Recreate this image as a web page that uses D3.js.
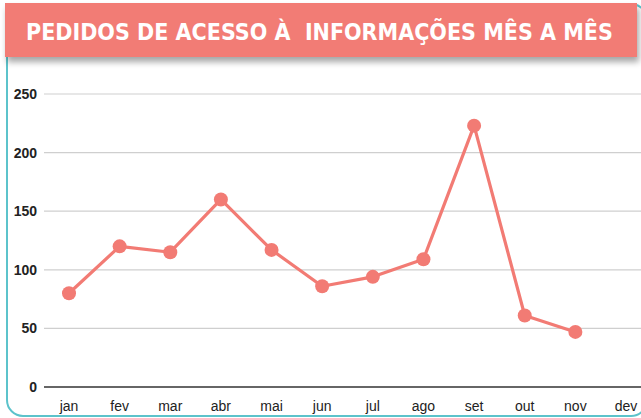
<!DOCTYPE html>
<html>
<head>
<meta charset="utf-8">
<script src="https://cdn.jsdelivr.net/npm/d3@7"></script>
<style>
  body { margin: 0; background: #fff; }
  svg { display: block; }
</style>
</head>
<body>
<div class="chart_div"></div>
<script>
var months = ["jan","fev","mar","abr","mai","jun","jul","ago","set","out","nov","dev"];
var pedidos = [80, 120, 115, 160, 117, 86, 94, 109, 223, 61, 47, null];
var yTicks = [0, 50, 100, 150, 200, 250];
var title = "PEDIDOS DE ACESSO À  INFORMAÇÕES MÊS A MÊS";

var width = 641, height = 418;
var salmon = "#f27b74";

var svg = d3.select(".chart_div").append("svg")
	.attr("width", width)
	.attr("height", height);

var defs = svg.append("defs");
var shadow = defs.append("filter").attr("id", "shadow")
	.attr("x", "-5%").attr("y", "-20%").attr("width", "110%").attr("height", "160%");
shadow.append("feDropShadow")
	.attr("dx", 2).attr("dy", 5)
	.attr("stdDeviation", 3)
	.attr("flood-color", "#000")
	.attr("flood-opacity", 0.35);

// teal frame
svg.append("rect")
	.attr("x", 7).attr("y", 4)
	.attr("width", 640).attr("height", 412)
	.attr("rx", 16)
	.attr("fill", "none")
	.attr("stroke", "#5cc3cb")
	.attr("stroke-width", 2);

var x = d3.scalePoint()
	.domain(months)
	.range([69, 626]);

var y = d3.scaleLinear()
	.domain([0, 250])
	.range([387, 94]);

// gridlines
svg.selectAll(".grid")
	.data(yTicks.filter(function(d){ return d != 0; }))
	.enter()
	.append("line")
	.attr("class", "grid")
	.attr("x1", 44).attr("x2", width)
	.attr("y1", function(d){ return y(d); })
	.attr("y2", function(d){ return y(d); })
	.attr("stroke", "#cfcfcf")
	.attr("stroke-width", 1.2);

svg.append("line")
	.attr("x1", 44).attr("x2", width)
	.attr("y1", y(0)).attr("y2", y(0))
	.attr("stroke", "#333")
	.attr("stroke-width", 1.6);

// y labels
svg.selectAll(".ylab")
	.data(yTicks)
	.enter()
	.append("text")
	.attr("class", "ylab")
	.attr("x", 37)
	.attr("y", function(d){ return y(d) + 5; })
	.attr("text-anchor", "end")
	.attr("font-family", "Liberation Sans, Arial, sans-serif")
	.attr("font-size", 14)
	.attr("font-weight", "bold")
	.attr("fill", "#222")
	.text(function(d){ return d; });

// x labels
svg.selectAll(".xlab")
	.data(months)
	.enter()
	.append("text")
	.attr("class", "xlab")
	.attr("x", function(d){ return x(d); })
	.attr("y", 411)
	.attr("text-anchor", "middle")
	.attr("font-family", "Liberation Sans, Arial, sans-serif")
	.attr("font-size", 14)
	.attr("fill", "#222")
	.text(function(d){ return d; });

var pts = months.map(function(m, i){ return {m: m, v: pedidos[i]}; })
	.filter(function(d){ return d.v != null; });

var line = d3.line()
	.x(function(d){ return x(d.m); })
	.y(function(d){ return y(d.v); });

svg.append("path")
	.datum(pts)
	.attr("d", line)
	.attr("fill", "none")
	.attr("stroke", salmon)
	.attr("stroke-width", 3.2)
	.attr("stroke-linejoin", "round");

svg.selectAll(".dot")
	.data(pts)
	.enter()
	.append("circle")
	.attr("class", "dot")
	.attr("cx", function(d){ return x(d.m); })
	.attr("cy", function(d){ return y(d.v); })
	.attr("r", 7)
	.attr("fill", salmon);

// title banner
svg.append("rect")
	.attr("x", 5).attr("y", 3)
	.attr("width", 632).attr("height", 54)
	.attr("fill", salmon)
	.attr("filter", "url(#shadow)");

svg.append("text")
	.attr("x", 26)
	.attr("y", 40)
	.attr("font-family", "DejaVu Sans Condensed, DejaVu Sans, sans-serif")
	.attr("font-weight", "bold")
	.attr("font-size", 23)
	.attr("fill", "#fff")
	.style("white-space", "pre")
	.text(title);
</script>
</body>
</html>
